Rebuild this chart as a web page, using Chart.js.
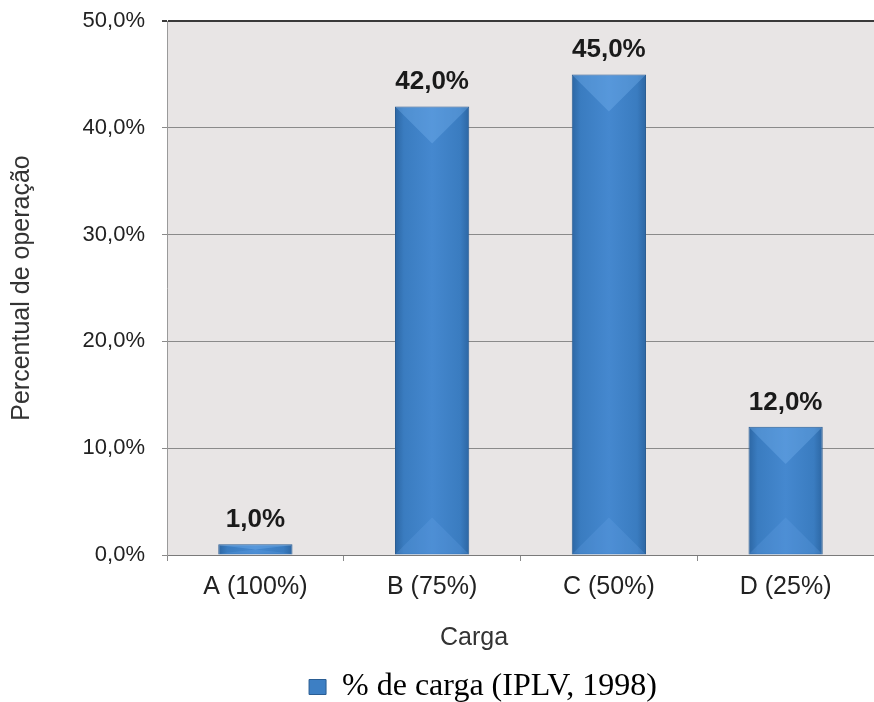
<!DOCTYPE html>
<html><head><meta charset="utf-8">
<script src="https://cdn.jsdelivr.net/npm/chart.js@4.4.1/dist/chart.umd.min.js"></script>
<style>html,body{margin:0;padding:0;background:#fff}</style>
</head><body>
<canvas id="c" width="874" height="702"></canvas>
<script>
const categories = ['A (100%)', 'B (75%)', 'C (50%)', 'D (25%)'];
const values = [1.0, 42.0, 45.0, 12.0];
const seriesName = '% de carga (IPLV, 1998)';
const yMin = 0, yMax = 50, yStep = 10;
const xTitle = 'Carga';
const yTitle = 'Percentual de operação';

const fmt = v => v.toFixed(1).replace('.', ',') + '%';
const SANS = "'Liberation Sans', Arial, sans-serif";

const plotBg = {
  id: 'plotBg',
  beforeDraw(chart) {
    const {ctx, chartArea: a} = chart;
    ctx.save();
    ctx.fillStyle = '#e8e5e5';
    ctx.fillRect(a.left, a.top, a.right - a.left, a.bottom - a.top);
    ctx.restore();
  }
};

const barStyle = {
  id: 'barStyle',
  beforeDatasetsDraw(chart) {
    const ctx = chart.ctx;
    chart.getDatasetMeta(0).data.forEach(el => {
      const w = el.width, l = el.x - w / 2, r = el.x + w / 2;
      const g = ctx.createLinearGradient(l, 0, r, 0);
      g.addColorStop(0, '#2c66a3');
      g.addColorStop(0.12, '#3a7cc0');
      g.addColorStop(0.5, '#4588cf');
      g.addColorStop(0.88, '#3a7cc0');
      g.addColorStop(1, '#2c66a3');
      el.options = Object.assign({}, el.options, {backgroundColor: g});
    });
  },
  afterDatasetsDraw(chart) {
    const ctx = chart.ctx;
    ctx.save();
    chart.getDatasetMeta(0).data.forEach(el => {
      const w = el.width, l = el.x - w / 2, r = el.x + w / 2;
      const top = el.y, bot = el.base;
      const h = bot - top;
      const d = Math.min(w / 2, h / 2);
      ctx.beginPath();
      ctx.moveTo(l + 1, top + 1); ctx.lineTo(r - 1, top + 1); ctx.lineTo(el.x, top + d); ctx.closePath();
      ctx.fillStyle = 'rgba(120,180,240,0.35)';
      ctx.fill();
      ctx.beginPath();
      ctx.moveTo(l + 1, bot - 1); ctx.lineTo(r - 1, bot - 1); ctx.lineTo(el.x, bot - d); ctx.closePath();
      ctx.fillStyle = 'rgba(110,170,235,0.22)';
      ctx.fill();
    });
    ctx.restore();
  }
};

const valueLabels = {
  id: 'valueLabels',
  afterDatasetsDraw(chart) {
    const ctx = chart.ctx;
    ctx.save();
    ctx.font = "bold 26px " + SANS;
    ctx.fillStyle = '#1a1a1a';
    ctx.textAlign = 'center';
    ctx.textBaseline = 'alphabetic';
    chart.getDatasetMeta(0).data.forEach((el, i) => {
      ctx.fillText(fmt(values[i]), el.x, el.y - 17);
    });
    ctx.restore();
  }
};

const xTitlePlugin = {
  id: 'xTitlePlugin',
  afterDraw(chart) {
    const ctx = chart.ctx;
    ctx.save();
    ctx.font = "25px " + SANS;
    ctx.fillStyle = '#333333';
    ctx.textAlign = 'center';
    ctx.textBaseline = 'middle';
    ctx.fillText(xTitle, 474, 638);
    ctx.restore();
  }
};

const legendShift = {
  id: 'legendShift',
  afterLayout(chart) {
    if (chart.legend) {
      chart.legend.left += 92;
      chart.legend.top += 11;
      chart.legend.bottom += 11;
    }
  }
};

new Chart(document.getElementById('c'), {
  type: 'bar',
  data: {
    labels: categories,
    datasets: [{
      label: seriesName,
      data: values,
      backgroundColor: '#3d7fc4',
      borderColor: '#2a5d93',
      borderWidth: 1,
      barPercentage: 0.42,
      categoryPercentage: 1.0
    }]
  },
  options: {
    responsive: false,
    animation: false,
    events: [],
    layout: { padding: { top: 21, right: 0, bottom: 0, left: 0 } },
    plugins: {
      tooltip: { enabled: false },
      legend: {
        position: 'bottom',
        labels: {
          font: { family: "'Liberation Serif', 'Times New Roman', serif", size: 32 },
          color: '#222222',
          boxWidth: 17,
          boxHeight: 15,
          padding: 0,
          generateLabels(chart) {
            return [{ text: seriesName, fillStyle: '#3d7fc4', strokeStyle: '#2a5d93', lineWidth: 1, datasetIndex: 0 }];
          }
        }
      }
    },
    scales: {
      x: {
        grid: { drawOnChartArea: false, offset: true, tickLength: 6, color: '#8a8a8a' },
        border: { color: '#7a7a7a', width: 1 },
        ticks: { font: { family: SANS, size: 25 }, color: '#222222', padding: 11 },
        afterFit(scale) { scale.height = 105; }
      },
      y: {
        min: yMin, max: yMax,
        grid: {
          color: ctx => (ctx.tick && ctx.tick.value === yMax) ? '#3a3a3a' : '#8a8a8a',
          lineWidth: ctx => (ctx.tick && ctx.tick.value === yMax) ? 2 : 1,
          tickLength: 5
        },
        border: { color: '#9a9a9a', width: 1 },
        ticks: {
          stepSize: yStep,
          font: { family: SANS, size: 22 },
          color: '#222222',
          padding: 17,
          callback: v => fmt(v)
        },
        title: {
          display: true,
          text: yTitle,
          font: { family: SANS, size: 25 },
          color: '#333333',
          padding: { top: 7, bottom: 0 }
        },
        afterFit(scale) { scale.width = 167; scale.paddingTop = 0; scale.paddingBottom = 0; }
      }
    }
  },
  plugins: [plotBg, barStyle, valueLabels, xTitlePlugin, legendShift]
});
</script>
</body></html>
